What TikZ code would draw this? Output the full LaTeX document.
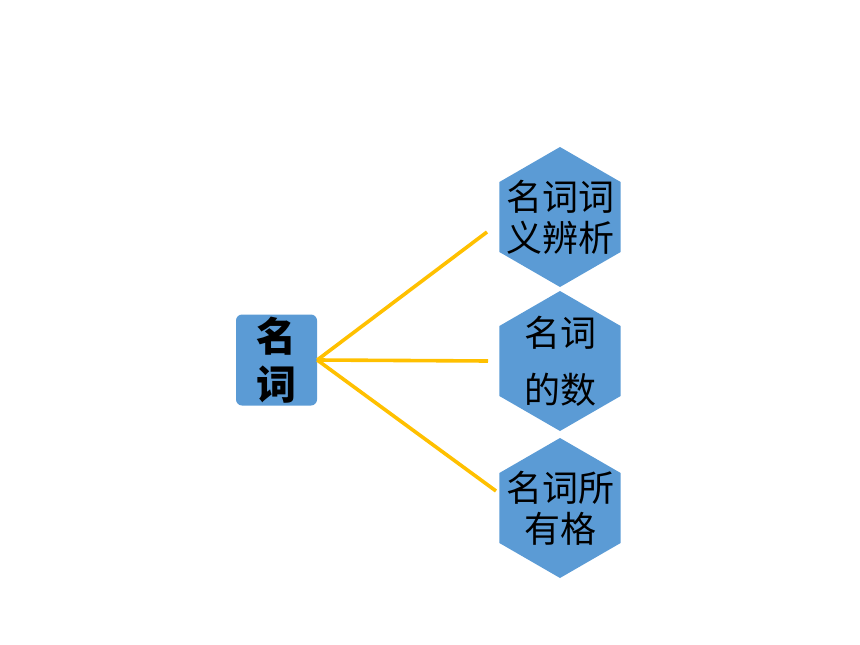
\documentclass[tikz,border=0pt]{standalone}
\usepackage{fontspec}
\setmainfont{Noto Sans CJK SC}
\usetikzlibrary{shapes.geometric}
\usetikzlibrary{positioning}
\definecolor{hexblue}{HTML}{5B9BD5}
\definecolor{branchgold}{HTML}{FFC000}
\tikzstyle{rootbox}=[rectangle,rounded corners=6pt,fill=hexblue,minimum width=81pt,minimum height=91pt,inner sep=0pt,align=center,font=\bfseries\fontsize{40}{48}\selectfont]
\tikzstyle{hexvertex}=[regular polygon,regular polygon sides=6,shape border rotate=30,fill=hexblue,minimum size=140pt,inner sep=0pt]
\tikzstyle{hexlabel}=[align=center,inner sep=0pt,font=\fontsize{36}{41}\selectfont]
\tikzstyle{branchedge} = [draw,line width=3.6pt,branchgold]

\begin{document}
\begin{tikzpicture}[x=1pt,y=-1pt]
    \useasboundingbox (0,0) rectangle (860,645);

    \node[rootbox] (noun) at (276.5,360) {名\\词};

    \foreach \pos/\name/\label in {{(560,217)/syn/{名词词\\义辨析}}, {(560,361)/num/{名词\\[16pt]的数}}, {(560,508)/poss/{名词所\\有格}}}
    {
        \node[hexvertex] (\name) at \pos {};
        \node[hexlabel] (\name text) at (\name.center) {\label};
    }

    \coordinate (synend) at (487,232);
    \coordinate (numend) at (488,361);
    \coordinate (possend) at (496,491);

    \foreach \dest in {synend, numend, possend}
        \path[branchedge] (noun.east) -- (\dest);
\end{tikzpicture}
\end{document}
